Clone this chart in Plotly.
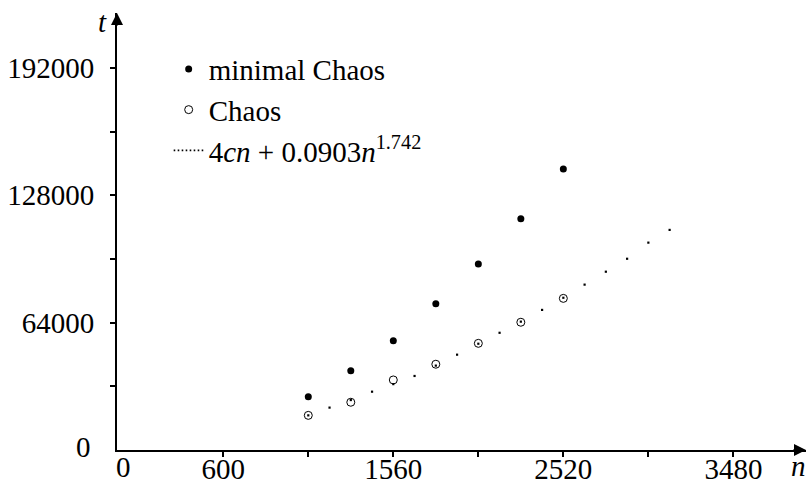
import plotly.graph_objects as go

# ---- data ----
n_vals = [1080, 1320, 1560, 1800, 2040, 2280, 2520]
minimal_chaos = [26800, 39800, 54900, 73500, 93500, 116200, 141200]
chaos = [17400, 24000, 35200, 43100, 53600, 64200, 76200]

fit_n = [1080, 1200, 1320, 1440, 1560, 1680, 1800, 1920, 2040, 2160,
         2280, 2400, 2520, 2640, 2760, 2880, 3000, 3120]
fit_t = [17400, 21300, 25100, 29300, 33100, 37200, 42400, 47900, 53400, 58900,
         64500, 70400, 76500, 83100, 89600, 96100, 104200, 110600]

x_tickvals = [600, 1080, 1560, 2040, 2520, 3000, 3480]
x_ticktext = ["600", "", "1560", "", "2520", "", "3480"]
y_tickvals = [32000, 64000, 96000, 128000, 160000, 192000]
y_ticktext = ["", "64000", "", "128000", "", "192000"]

X_MAX = 3890
Y_MAX = 219600

FONT = "Liberation Serif"
FS = 29

fig = go.Figure()

fig.add_trace(go.Scatter(
    x=fit_n, y=fit_t, mode="markers",
    marker=dict(symbol="square", size=2.2, color="black", line=dict(width=0)),
    showlegend=False, hoverinfo="skip"))

fig.add_trace(go.Scatter(
    x=n_vals, y=minimal_chaos, mode="markers", name="minimal Chaos",
    marker=dict(symbol="circle", size=7, color="black", line=dict(width=0))))

fig.add_trace(go.Scatter(
    x=n_vals, y=chaos, mode="markers", name="Chaos",
    marker=dict(symbol="circle-open", size=8, color="black", line=dict(width=1, color="black"))))

# legend entry for the fitted curve (dotted sample)
fig.add_trace(go.Scatter(
    x=[None], y=[None], mode="lines",
    name="4<i>cn</i> + 0.0903<i>n</i><sup>1.742</sup>",
    line=dict(color="black", width=1.6, dash="1.6px,2.4px")))

fig.update_layout(
    width=807, height=485,
    margin=dict(l=117, r=1, t=13, b=35, autoexpand=False),
    paper_bgcolor="white", plot_bgcolor="white",
    font=dict(family=FONT, size=FS, color="black"),
    showlegend=True,
    legend=dict(x=0.075, y=0.93, xanchor="left", yanchor="top",
                bgcolor="rgba(0,0,0,0)", borderwidth=0,
                font=dict(family=FONT, size=29, color="black"),
                itemwidth=30, tracegroupgap=0),
    xaxis=dict(range=[0, X_MAX], showgrid=False, zeroline=False, automargin=False,
               showline=True, linecolor="black", linewidth=2,
               ticks="outside", ticklen=5, tickwidth=2, tickcolor="black",
               tickvals=x_tickvals, ticktext=x_ticktext,
               tickfont=dict(family=FONT, size=FS, color="black"),
               ticklabelstandoff=-13),
    yaxis=dict(range=[0, Y_MAX], showgrid=False, zeroline=False, automargin=False,
               showline=True, linecolor="black", linewidth=2,
               ticks="outside", ticklen=5, tickwidth=2, tickcolor="black",
               tickvals=y_tickvals, ticktext=y_ticktext,
               tickfont=dict(family=FONT, size=FS, color="black"),
               ticklabelstandoff=10),
)

# axis arrow heads
fig.add_annotation(x=X_MAX, y=0, xref="x", yref="y", ax=-14, ay=0,
                   axref="pixel", ayref="pixel", text="", showarrow=True,
                   arrowhead=2, arrowsize=1.2, arrowwidth=2, arrowcolor="black")
fig.add_annotation(x=0, y=Y_MAX, xref="x", yref="y", ax=0, ay=14,
                   axref="pixel", ayref="pixel", text="", showarrow=True,
                   arrowhead=2, arrowsize=1.2, arrowwidth=2, arrowcolor="black")

# axis names
fig.add_annotation(x=0, y=Y_MAX, xref="x", yref="y", xanchor="right", yanchor="middle",
                   xshift=-8, yshift=-9, text="<i>t</i>", showarrow=False,
                   font=dict(family=FONT, size=FS, color="black"))
fig.add_annotation(x=X_MAX, y=0, xref="x", yref="y", xanchor="right", yanchor="top",
                   xshift=2, yshift=2, text="<i>n</i>", showarrow=False,
                   font=dict(family=FONT, size=FS, color="black"))

# origin labels
fig.add_annotation(x=0, y=0, xref="x", yref="y", xanchor="left", yanchor="middle",
                   xshift=-2, yshift=-17, borderpad=0, text="0", showarrow=False,
                   font=dict(family=FONT, size=FS, color="black"))
fig.add_annotation(x=0, y=0, xref="x", yref="y", xanchor="right", yanchor="middle",
                   xshift=-24, yshift=3, text="0", showarrow=False,
                   font=dict(family=FONT, size=FS, color="black"))

fig.write_html("out.html")
